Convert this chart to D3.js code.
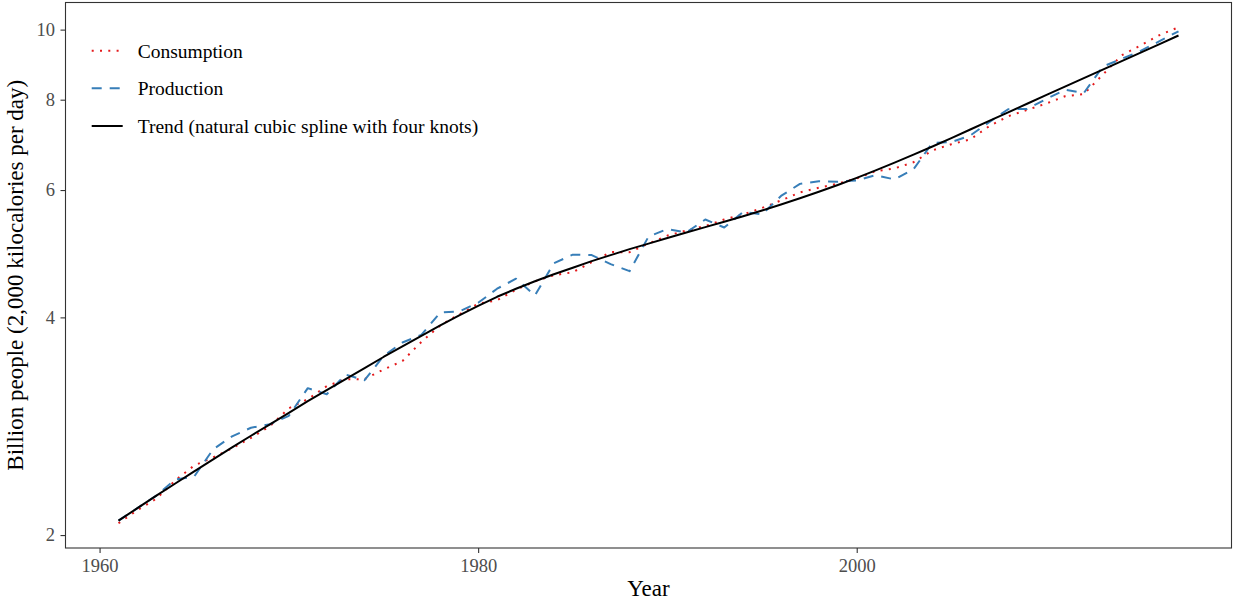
<!DOCTYPE html>
<html><head><meta charset="utf-8">
<script src="https://cdn.jsdelivr.net/npm/d3@7/dist/d3.min.js"></script>
<style>body{margin:0;background:#fff}svg{display:block}</style>
</head><body>
<svg id="chart" width="1234" height="604"></svg>
<script>
// ---- data (billion people fed, 2,000 kcal/day) ----
const years = [1961,1962,1963,1964,1965,1966,1967,1968,1969,1970,
  1971,1972,1973,1974,1975,1976,1977,1978,1979,1980,
  1981,1982,1983,1984,1985,1986,1987,1988,1989,1990,
  1991,1992,1993,1994,1995,1996,1997,1998,1999,2000,
  2001,2002,2003,2004,2005,2006,2007,2008,2009,2010,
  2011,2012,2013,2014,2015,2016,2017];
const consumption = [2.077,2.165,2.246,2.380,2.496,2.561,2.636,2.726,2.828,2.995,
  3.083,3.213,3.286,3.286,3.388,3.481,3.699,3.899,4.038,4.177,
  4.224,4.368,4.487,4.574,4.618,4.769,4.924,4.923,5.059,5.190,
  5.275,5.350,5.463,5.551,5.667,5.804,5.955,6.045,6.123,6.227,
  6.372,6.428,6.555,6.808,6.943,7.048,7.354,7.588,7.742,7.900,
  8.087,8.145,8.664,9.215,9.509,9.827,10.074];
const production = [2.094,2.179,2.268,2.387,2.410,2.628,2.739,2.815,2.846,2.924,
  3.193,3.132,3.334,3.275,3.537,3.693,3.783,4.064,4.077,4.190,
  4.382,4.524,4.290,4.753,4.884,4.877,4.739,4.634,5.173,5.299,
  5.241,5.463,5.325,5.595,5.551,5.888,6.119,6.172,6.162,6.188,
  6.291,6.206,6.410,6.973,6.988,7.138,7.449,7.760,7.767,8.014,
  8.256,8.172,8.888,9.112,9.342,9.640,9.947];
const trend = [2.094,2.179,2.268,2.357,2.449,2.545,2.644,2.744,2.846,2.952,
  3.063,3.172,3.286,3.403,3.526,3.646,3.771,3.899,4.025,4.150,
  4.271,4.382,4.487,4.589,4.685,4.784,4.877,4.971,5.059,5.149,
  5.241,5.332,5.425,5.521,5.622,5.729,5.844,5.967,6.098,6.238,
  6.387,6.546,6.715,6.893,7.080,7.276,7.478,7.685,7.897,8.115,
  8.338,8.568,8.803,9.046,9.295,9.551,9.814];
const xTicks = [1960, 1980, 2000];
const yTicks = [2, 4, 6, 8, 10];
const seriesNames = ["Consumption", "Production", "Trend (natural cubic spline with four knots)"];

// ---- layout ----
const P = {left: 65.5, right: 1231.5, top: 2.5, bottom: 548};
const FONT = "'Liberation Serif','Times New Roman',serif";
const styles = [
  {color: "#E41A1C", width: 2, dash: "2 6.3"},
  {color: "#377EB8", width: 2, dash: "10 8"},
  {color: "#000000", width: 2, dash: null}
];

const svg = d3.select("#chart");

const xExt = d3.extent(years);
const xPad = (xExt[1] - xExt[0]) * 0.05;
const x = d3.scaleLinear().domain([xExt[0] - xPad, xExt[1] + xPad]).range([P.left, P.right]);

const allV = consumption.concat(production, trend);
const lmin = Math.log10(d3.min(allV)), lmax = Math.log10(d3.max(allV));
const lPad = (lmax - lmin) * 0.05;
const y = d3.scaleLog().domain([Math.pow(10, lmin - lPad), Math.pow(10, lmax + lPad)]).range([P.bottom, P.top]);

svg.append("defs").append("clipPath").attr("id", "clip")
  .append("rect").attr("x", P.left).attr("y", P.top)
  .attr("width", P.right - P.left).attr("height", P.bottom - P.top);

svg.append("rect").attr("x", P.left).attr("y", P.top)
  .attr("width", P.right - P.left).attr("height", P.bottom - P.top).attr("fill", "#fff");

const line = d3.line().x(d => x(d[0])).y(d => y(d[1]));
const series = [consumption, production, trend];
const g = svg.append("g").attr("clip-path", "url(#clip)");
series.forEach((vals, i) => {
  const s = styles[i];
  g.append("path")
    .datum(years.map((yr, j) => [yr, vals[j]]))
    .attr("d", line)
    .attr("fill", "none")
    .attr("stroke", s.color)
    .attr("stroke-width", s.width)
    .attr("stroke-dasharray", s.dash)
    .attr("stroke-linejoin", "round");
});

// panel border
svg.append("rect").attr("x", P.left).attr("y", P.top)
  .attr("width", P.right - P.left).attr("height", P.bottom - P.top)
  .attr("fill", "none").attr("stroke", "#333333").attr("stroke-width", 1.1);

// axes
const xAxis = svg.append("g").attr("transform", `translate(0,${P.bottom})`)
  .call(d3.axisBottom(x).tickValues(xTicks).tickFormat(d3.format("d")).tickSize(5).tickPadding(6));
const yAxis = svg.append("g").attr("transform", `translate(${P.left},0)`)
  .call(d3.axisLeft(y).tickValues(yTicks).tickFormat(d3.format("d")).tickSize(5).tickPadding(5.5));
[xAxis, yAxis].forEach(a => {
  a.select(".domain").remove();
  a.selectAll(".tick line").attr("stroke", "#333333").attr("stroke-width", 1.1);
  a.selectAll(".tick text").attr("fill", "#4D4D4D").style("font-family", FONT).style("font-size", "18.5px");
});

// axis titles
svg.append("text").attr("x", (P.left + P.right) / 2).attr("y", 596)
  .attr("text-anchor", "middle").style("font-family", FONT).style("font-size", "23px")
  .attr("fill", "#000").text("Year");
svg.append("text").attr("transform", `translate(23,${(P.top + P.bottom) / 2}) rotate(-90)`)
  .attr("text-anchor", "middle").style("font-family", FONT).style("font-size", "23px")
  .attr("fill", "#000").text("Billion people (2,000 kilocalories per day)");

// legend
const legY = [50.7, 88.3, 126];
const leg = svg.append("g");
seriesNames.forEach((name, i) => {
  const s = styles[i];
  leg.append("line").attr("x1", 91.7).attr("x2", 122.7).attr("y1", legY[i]).attr("y2", legY[i])
    .attr("stroke", s.color).attr("stroke-width", s.width).attr("stroke-dasharray", s.dash);
  leg.append("text").attr("x", 137.7).attr("y", legY[i]).attr("dy", "0.36em")
    .style("font-family", FONT).style("font-size", "19.5px").attr("fill", "#000").text(name);
});
</script>
</body></html>
